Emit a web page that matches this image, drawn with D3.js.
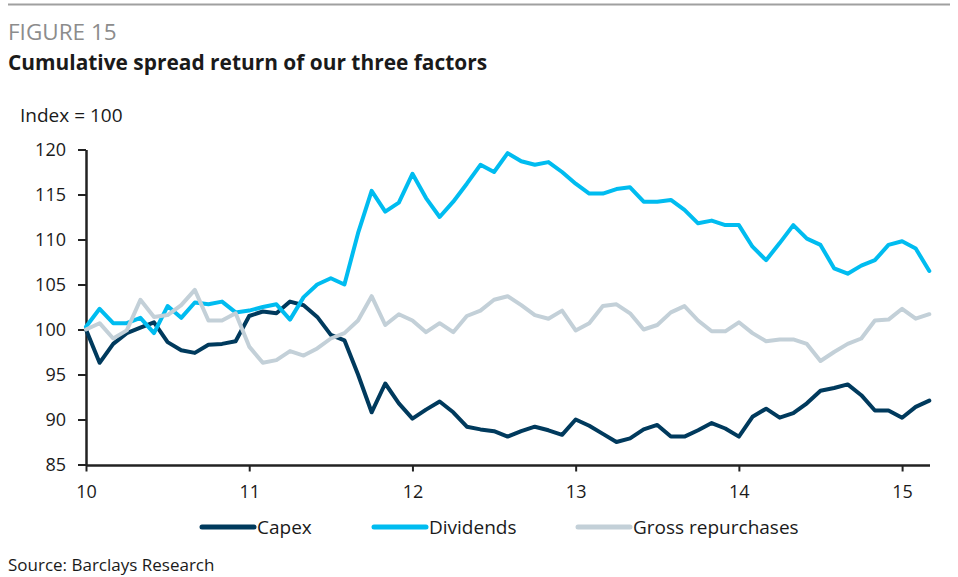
<!DOCTYPE html>
<html><head><meta charset="utf-8">
<script src="https://cdn.jsdelivr.net/npm/d3@7"></script>
<style>
body{margin:0;background:#fff;}
svg{display:block;font-family:"Open Sans",sans-serif;}
</style></head>
<body><svg id="c" width="958" height="577"></svg>
<script>
// monthly observations, starting at 10.0 (year index), step 1/12
const startYear = 10;
const capex = [100,96.3,98.4,99.6,100.2,100.8,98.6,97.7,97.4,98.3,98.4,98.7,101.5,102,101.8,103.1,102.7,101.4,99.4,98.8,95,90.8,94,91.8,90.1,91.1,92,90.8,89.2,88.9,88.7,88.1,88.7,89.2,88.8,88.3,90,89.3,88.4,87.5,87.9,88.9,89.4,88.1,88.1,88.8,89.6,89,88.1,90.3,91.2,90.2,90.7,91.8,93.2,93.5,93.9,92.7,91,91,90.2,91.4,92.1];
const dividends = [100.3,102.3,100.7,100.7,101.3,99.6,102.6,101.3,103,102.8,103.1,101.9,102.1,102.5,102.8,101.1,103.6,105,105.7,105,110.7,115.4,113.1,114.1,117.3,114.6,112.5,114.2,116.2,118.3,117.5,119.6,118.7,118.3,118.6,117.5,116.2,115.1,115.1,115.6,115.8,114.2,114.2,114.4,113.3,111.8,112.1,111.6,111.6,109.2,107.7,109.6,111.6,110.1,109.4,106.8,106.2,107.1,107.7,109.4,109.8,109,106.5];
const grossRepurchases = [100,100.7,99,99.9,103.3,101.4,101.6,102.7,104.4,101,101,101.8,98.1,96.3,96.6,97.6,97.1,97.9,99,99.6,101,103.7,100.5,101.7,101,99.7,100.7,99.7,101.5,102.1,103.3,103.7,102.7,101.6,101.2,102.1,99.9,100.7,102.6,102.8,101.8,100,100.5,101.9,102.6,101,99.8,99.8,100.8,99.6,98.7,98.9,98.9,98.4,96.5,97.5,98.4,99,101,101.1,102.3,101.2,101.7];
const seriesNames = ["Capex","Dividends","Gross repurchases"];
const seriesColors = ["#003a5d","#00bcf0","#c3d0d8"];
const xTicks = [10,11,12,13,14,15];
const yTicks = [85,90,95,100,105,110,115,120];

const svg = d3.select("#c");
const x = d3.scaleLinear().domain([10, 15 + 2/12]).range([86, 929.3]);
const y = d3.scaleLinear().domain([85,120]).range([464.5,149.5]);

// header
svg.append("line").attr("x1",8).attr("x2",950).attr("y1",4.5).attr("y2",4.5).attr("stroke","#a0a0a0").attr("stroke-width",2);
svg.append("text").attr("x",8).attr("y",40).attr("font-size",22.5).attr("fill","#8c8c8c").text("FIGURE 15");
svg.append("text").attr("x",8).attr("y",70).attr("font-size",20.9).attr("font-weight",700).attr("fill","#1a1a1a").text("Cumulative spread return of our three factors");
svg.append("text").attr("x",20).attr("y",122).attr("font-size",19).attr("fill","#1a1a1a").text("Index = 100");

// axes
const yAxis = svg.append("g").attr("transform","translate(86,0)")
  .call(d3.axisLeft(y).tickValues(yTicks).tickSize(8).tickPadding(12).tickSizeOuter(0));
const xAxis = svg.append("g").attr("transform","translate(0,465.5)")
  .call(d3.axisBottom(x).tickValues(xTicks).tickFormat(d3.format("d")).tickSize(6).tickPadding(14).tickSizeOuter(0));
[yAxis,xAxis].forEach(g=>{
  g.select(".domain").attr("stroke","#222").attr("stroke-width",2.5);
  g.selectAll(".tick line").attr("stroke","#222").attr("stroke-width",2);
  g.selectAll(".tick text").attr("fill","#1a1a1a").attr("font-size",18).attr("font-family","Open Sans, sans-serif");
});
xAxis.select(".domain").attr("d","M86,0H930");

// lines
const allSeries = [capex, dividends, grossRepurchases];
const line = d3.line().x((d,i)=>x(startYear + i/12)).y(d=>y(d));
allSeries.forEach((s,k)=>{
  svg.append("path").datum(s).attr("d",line).attr("fill","none")
    .attr("stroke",seriesColors[k]).attr("stroke-width",4).attr("stroke-linejoin","round").attr("stroke-linecap","round");
});

// legend
const legendX = [202,374,578];
seriesNames.forEach((n,k)=>{
  const g = svg.append("g").attr("transform",`translate(${legendX[k]},527)`);
  g.append("line").attr("x1",0).attr("x2",52).attr("y1",0).attr("y2",0).attr("stroke",seriesColors[k]).attr("stroke-width",5).attr("stroke-linecap","round");
  g.append("text").attr("x",55).attr("y",7).attr("font-size",19).attr("fill","#1a1a1a").text(n);
});

svg.append("text").attr("x",8).attr("y",571).attr("font-size",17).attr("fill","#1a1a1a").text("Source: Barclays Research");
</script></body></html>
